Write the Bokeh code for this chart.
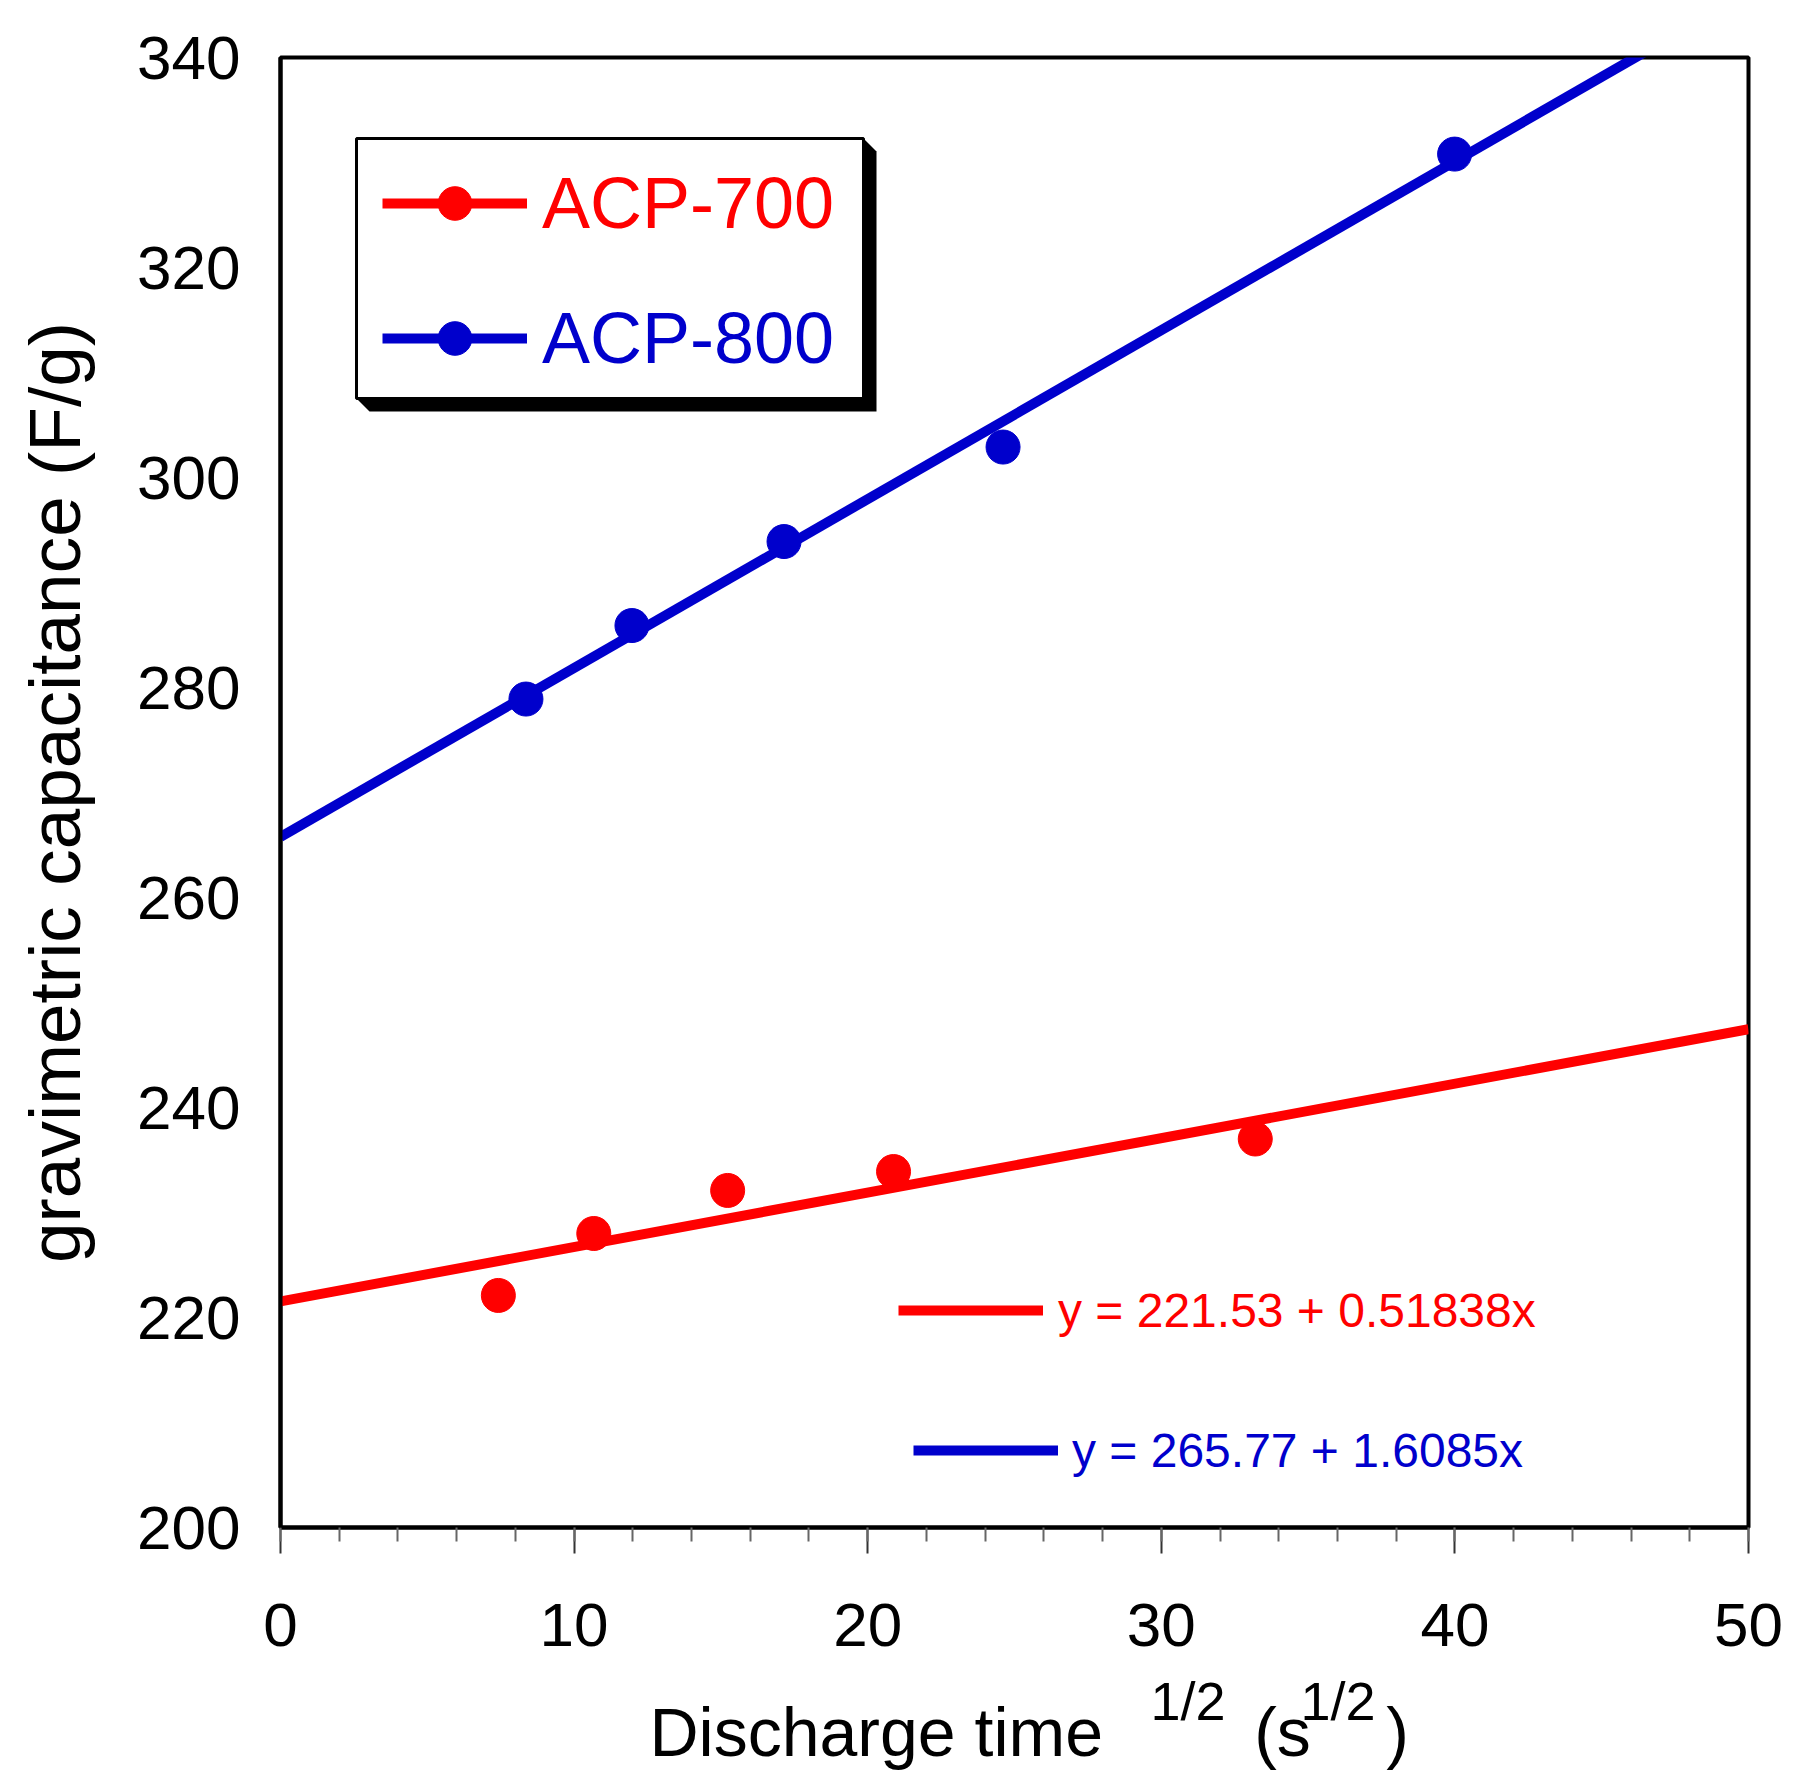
import math
from bokeh.plotting import figure
from bokeh.models import (Range1d, FixedTicker, BoxAnnotation, PolyAnnotation,
                          Legend, LegendItem, Title)
from bokeh.embed import file_html
from bokeh.resources import INLINE

# ---------------- data ----------------
series_names = ["ACP-700", "ACP-800"]
acp700_x = [7.42, 10.67, 15.23, 20.88, 33.2]
acp700_y = [222.1, 228.0, 232.1, 233.9, 237.0]
acp800_x = [8.36, 11.97, 17.15, 24.61, 39.99]
acp800_y = [278.9, 285.9, 293.9, 302.9, 330.8]
fit700 = [221.53, 0.51838]      # intercept, slope
fit800 = [265.77, 1.6085]
fit_x = [0, 50]
eq_labels = ["y = 221.53 + 0.51838x", "y = 265.77 + 1.6085x"]
x_ticks = [0, 10, 20, 30, 40, 50]
x_minor_ticks = [0, 2, 4, 6, 8, 10, 12, 14, 16, 18, 20, 22, 24, 26, 28, 30,
                 32, 34, 36, 38, 40, 42, 44, 46, 48, 50]
y_ticks = [200, 220, 240, 260, 280, 300, 320, 340]
y_title = "gravimetric capacitance (F/g)"
colors = ["#FF0000", "#0000CC"]
FONT = "Liberation Sans"
NB = "\u00a0"

# ---------------- layout ----------------
W, H = 1800, 1780
FL, FT, FW, FH = 280, 57, 1468, 1470          # frame in figure pixels
X0, X1, Y0, Y1 = 0, 50, 200, 340


def xd(px):   # pixel -> data x
    return X0 + (px - FL) / FW * (X1 - X0)


def yd(py):   # pixel -> data y
    return Y0 + (FT + FH - py) / FH * (Y1 - Y0)


p = figure(width=W, height=H, x_range=Range1d(X0, X1), y_range=Range1d(Y0, Y1),
           output_backend="svg", toolbar_location=None,
           min_border_left=FL, min_border_top=FT,
           min_border_right=W - FL - FW, min_border_bottom=H - FT - FH)
p.background_fill_color = "white"
p.border_fill_color = "white"
p.outline_line_color = "black"
p.outline_line_width = 4
p.grid.visible = False

# x axis
xa = p.xaxis[0]
xa.ticker = FixedTicker(ticks=x_ticks, minor_ticks=x_minor_ticks)
xa.axis_line_color = "black"
xa.axis_line_width = 4
xa.major_tick_in = 0
xa.major_tick_out = 26
xa.minor_tick_in = 0
xa.minor_tick_out = 14
xa.major_tick_line_color = "#333333"
xa.minor_tick_line_color = "#666666"
xa.major_tick_line_width = 2
xa.minor_tick_line_width = 2
xa.major_label_text_font = FONT
xa.major_label_text_font_size = "62px"
xa.major_label_text_color = "black"
xa.major_label_standoff = 50

# y axis
ya = p.yaxis[0]
ya.ticker = FixedTicker(ticks=y_ticks)
ya.axis_line_color = "black"
ya.axis_line_width = 4
ya.major_tick_in = 0
ya.major_tick_out = 0
ya.minor_tick_in = 0
ya.minor_tick_out = 0
ya.major_tick_line_color = None
ya.minor_tick_line_color = None
ya.major_label_text_font = FONT
ya.major_label_text_font_size = "62px"
ya.major_label_text_color = "black"
ya.major_label_standoff = 40
ya.axis_label = y_title
ya.axis_label_text_font = FONT
ya.axis_label_text_font_size = "73px"
ya.axis_label_text_font_style = "normal"
ya.axis_label_text_color = "black"
ya.axis_label_standoff = 39

# ---------------- glyphs ----------------
fit700_y = [fit700[0] + fit700[1] * x for x in fit_x]
fit800_y = [fit800[0] + fit800[1] * x for x in fit_x]

l700 = p.line(fit_x, fit700_y, line_color=colors[0], line_width=10)
l800 = p.line(fit_x, fit800_y, line_color=colors[1], line_width=10)
s700 = p.scatter(acp700_x, acp700_y, marker="circle", size=34,
                 fill_color=colors[0], line_color=colors[0])
s800 = p.scatter(acp800_x, acp800_y, marker="circle", size=34,
                 fill_color=colors[1], line_color=colors[1])

# ---------------- legend box with bevelled shadow ----------------
sh_px = [863, 876, 876, 369, 356]
sh_py = [138, 151, 411, 411, 398]
shadow = PolyAnnotation(xs=[xd(v) for v in sh_px], ys=[yd(v) for v in sh_py],
                        fill_color="black", fill_alpha=1.0, line_color=None)
box = BoxAnnotation(left=xd(356), right=xd(863), top=yd(138), bottom=yd(398),
                    fill_color="white", fill_alpha=1.0, line_color="black",
                    line_width=3, line_alpha=1.0)
p.add_layout(shadow)
p.add_layout(box)

FRAME_B = FT + FH


def add_legend(label, renderers, color, font_size, glyph_left, center_y,
               item_h, standoff):
    lg = Legend(items=[LegendItem(label=label, renderers=renderers)],
                location=(glyph_left - FL, FRAME_B - (center_y + item_h / 2)),
                orientation="vertical", padding=0, margin=0, spacing=0,
                glyph_width=145, glyph_height=item_h, label_height=item_h,
                label_standoff=standoff,
                label_text_font=FONT, label_text_font_size=font_size,
                label_text_color=color,
                background_fill_alpha=0, border_line_color=None)
    p.add_layout(lg, "center")


add_legend(series_names[0], [l700, s700], colors[0], "72px", 382, 203, 84, 15)
add_legend(series_names[1], [l800, s800], colors[1], "72px", 382, 338, 84, 15)
add_legend(eq_labels[0], [l700], colors[0], "48px", 898, 1310, 56, 15)
add_legend(eq_labels[1], [l800], colors[1], "48px", 913, 1450, 56, 14)

# ---------------- x axis title (main text + superscripts) ----------------
sup_text = "1/2" + NB * 5 + "1/2"
main_text = "Discharge time" + NB * 8 + "(s" + NB * 4 + ")"

p.add_layout(Title(text=sup_text, align="left", offset=1150 - FL,
                   vertical_align="bottom", standoff=40,
                   text_font=FONT, text_font_size="54px", text_font_style="normal",
                   text_color="black"), "below")
p.add_layout(Title(text=main_text, align="left", offset=649 - FL,
                   vertical_align="top", standoff=-114,
                   text_font=FONT, text_font_size="68px", text_font_style="normal",
                   text_color="black"), "below")

open("out.html", "w").write(file_html(p, INLINE))
